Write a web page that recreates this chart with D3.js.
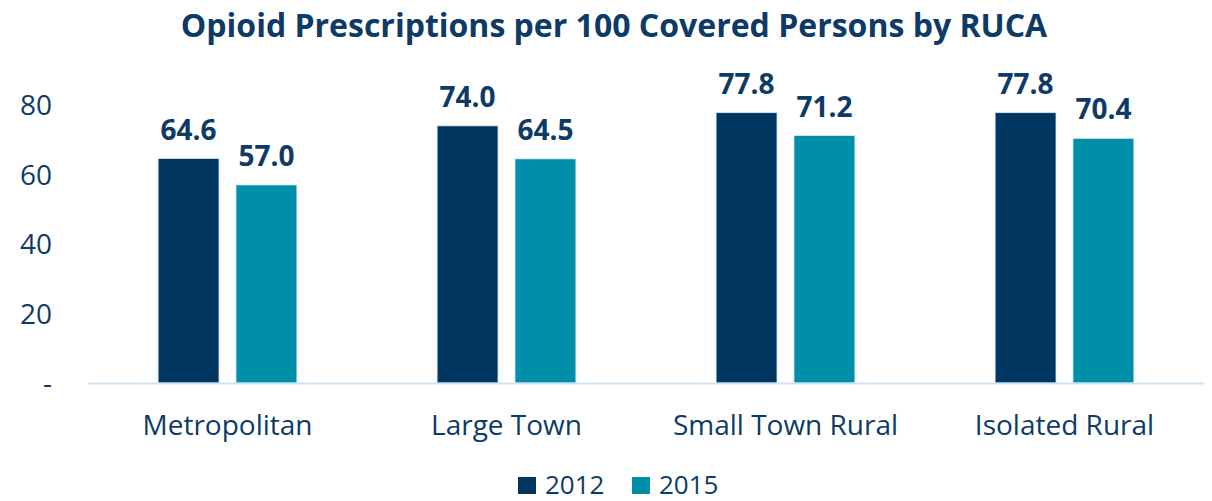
<!DOCTYPE html>
<html>
<head>
<meta charset="utf-8">
<script src="https://cdn.jsdelivr.net/npm/d3@7"></script>
<style>
  body { margin: 0; background: #fff; }
  text { font-family: "Open Sans", "Noto Sans", sans-serif; fill: #0d3a66; }
</style>
</head>
<body>
<div id="chart"></div>
<script>
// Chart data
const categories = ["Metropolitan", "Large Town", "Small Town Rural", "Isolated Rural"];
const seriesNames = ["2012", "2015"];
const values2012 = [64.6, 74.0, 77.8, 77.8];
const values2015 = [57.0, 64.5, 71.2, 70.4];
const yTicks = [0, 20, 40, 60, 80];

const width = 1212, height = 501;
const margin = { top: 70, right: 8, bottom: 118, left: 88 };
const colors = ["#003660", "#008faa"];

const svg = d3.select("#chart")
    .append("svg")
    .attr("width", width)
    .attr("height", height);

// Title
svg.append("text")
    .attr("x", 614)
    .attr("y", 37)
    .attr("text-anchor", "middle")
    .style("font-size", "32px")
    .style("font-weight", "bold")
    .text("Opioid Prescriptions per 100 Covered Persons by RUCA");

const x0 = d3.scaleBand()
    .domain(categories)
    .range([margin.left, width - margin.right])
    .paddingInner(0)
    .paddingOuter(0);

const x1 = d3.scaleBand()
    .domain(seriesNames)
    .range([0, x0.bandwidth()])
    .paddingInner(0.218)
    .paddingOuter(0.9);

const y = d3.scaleLinear()
    .domain([0, 80])
    .range([383, 105]);

// Y labels
svg.append("g")
    .selectAll("text")
    .data(yTicks)
    .join("text")
    .attr("x", 52)
    .attr("y", d => y(d))
    .attr("dy", "0.36em")
    .attr("text-anchor", "end")
    .style("font-size", "28px")
    .text(d => d === 0 ? "-" : d);

// Bars
const rows = categories.map((c, i) => ({ cat: c, vals: [values2012[i], values2015[i]] }));

const groups = svg.append("g")
    .selectAll("g")
    .data(rows)
    .join("g")
    .attr("transform", d => `translate(${x0(d.cat)},0)`);

groups.selectAll("rect")
    .data(d => d.vals.map((v, j) => ({ key: seriesNames[j], v, j })))
    .join("rect")
    .attr("x", d => x1(d.key))
    .attr("y", d => y(d.v))
    .attr("width", x1.bandwidth())
    .attr("height", d => y(0) - y(d.v))
    .attr("fill", d => colors[d.j])
    .attr("stroke", "#dbe9f5")
    .attr("stroke-width", 0.8);

groups.selectAll("text.val")
    .data(d => d.vals.map((v, j) => ({ key: seriesNames[j], v, j })))
    .join("text")
    .attr("class", "val")
    .attr("x", d => x1(d.key) + x1.bandwidth() / 2)
    .attr("y", d => y(d.v) - 19)
    .attr("text-anchor", "middle")
    .style("font-size", "28px")
    .style("font-weight", "bold")
    .text(d => d.v.toFixed(1));

// Baseline
svg.append("line")
    .attr("x1", margin.left)
    .attr("x2", width - margin.right)
    .attr("y1", y(0) + 0.5)
    .attr("y2", y(0) + 0.5)
    .attr("stroke", "#cce3f6")
    .attr("stroke-width", 2);

// Category labels
svg.append("g")
    .selectAll("text")
    .data(categories)
    .join("text")
    .attr("x", d => x0(d) + x0.bandwidth() / 2)
    .attr("y", 435)
    .attr("text-anchor", "middle")
    .style("font-size", "28px")
    .text(d => d);

// Legend (kept a touch higher so the text fits inside the frame)
const legend = svg.append("g")
    .selectAll("g")
    .data(seriesNames)
    .join("g")
    .attr("transform", (d, i) => `translate(${518 + i * 114}, 477)`);

legend.append("rect")
    .attr("width", 18)
    .attr("height", 17)
    .attr("fill", (d, i) => colors[i]);

legend.append("text")
    .attr("x", 27)
    .attr("y", 17)
    .style("font-size", "26px")
    .text(d => d);
</script>
</body>
</html>
